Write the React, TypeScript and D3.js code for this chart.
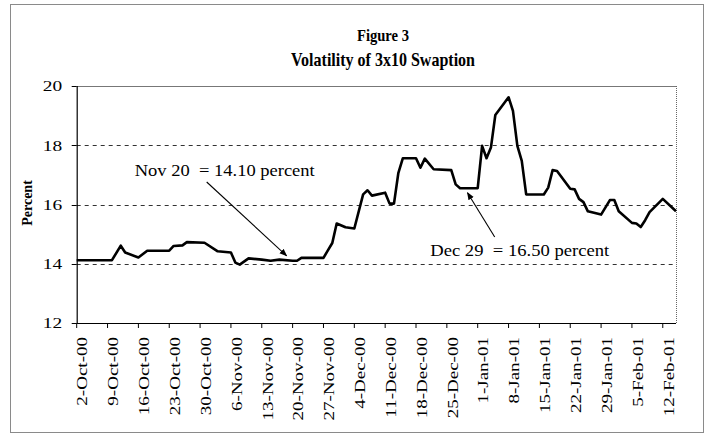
import React, { useEffect, useRef } from 'react';
import * as d3 from 'd3';

// Daily volatility readings (corner points of the plotted line)
const dates = [
  '2000-10-02', '2000-10-10', '2000-10-12', '2000-10-13', '2000-10-16', '2000-10-18',
  '2000-10-23', '2000-10-24', '2000-10-26', '2000-10-27', '2000-10-31', '2000-11-03',
  '2000-11-06', '2000-11-07', '2000-11-08', '2000-11-10', '2000-11-13', '2000-11-15',
  '2000-11-17', '2000-11-20', '2000-11-21', '2000-11-22', '2000-11-27', '2000-11-28',
  '2000-11-29', '2000-11-30', '2000-12-02', '2000-12-04', '2000-12-06', '2000-12-07',
  '2000-12-08', '2000-12-11', '2000-12-12', '2000-12-13', '2000-12-14', '2000-12-15',
  '2000-12-18', '2000-12-19', '2000-12-20', '2000-12-22', '2000-12-26', '2000-12-27',
  '2000-12-28', '2001-01-01', '2001-01-02', '2001-01-03', '2001-01-04', '2001-01-05',
  '2001-01-08', '2001-01-09', '2001-01-10', '2001-01-11', '2001-01-12', '2001-01-16',
  '2001-01-17', '2001-01-18', '2001-01-19', '2001-01-22', '2001-01-23', '2001-01-24',
  '2001-01-25', '2001-01-26', '2001-01-29', '2001-01-31', '2001-02-01', '2001-02-02',
  '2001-02-05', '2001-02-06', '2001-02-07', '2001-02-08', '2001-02-09', '2001-02-12',
  '2001-02-15'
];
const volatility = [
  14.12, 14.12, 14.61, 14.38, 14.21, 14.44,
  14.44, 14.6, 14.62, 14.73, 14.71, 14.42,
  14.38, 14.04, 13.97, 14.18, 14.14, 14.1,
  14.14, 14.1, 14.1, 14.2, 14.2, 14.45,
  14.7, 15.36, 15.23, 15.19, 16.34, 16.48,
  16.3, 16.4, 16.03, 16.03, 17.07, 17.56,
  17.56, 17.24, 17.55, 17.19, 17.16, 16.68,
  16.55, 16.55, 17.98, 17.56, 17.92, 19.02,
  19.62, 19.16, 17.98, 17.47, 16.34, 16.34,
  16.57, 17.16, 17.13, 16.53, 16.51, 16.19,
  16.08, 15.77, 15.66, 16.15, 16.15, 15.77,
  15.38, 15.36, 15.24, 15.47, 15.74, 16.19,
  15.77
];

const xTickLabels = [
  '2-Oct-00', '9-Oct-00', '16-Oct-00', '23-Oct-00', '30-Oct-00', '6-Nov-00',
  '13-Nov-00', '20-Nov-00', '27-Nov-00', '4-Dec-00', '11-Dec-00', '18-Dec-00',
  '25-Dec-00', '1-Jan-01', '8-Jan-01', '15-Jan-01', '22-Jan-01', '29-Jan-01',
  '5-Feb-01', '12-Feb-01'
];
const yTicks = [12, 14, 16, 18, 20];
const gridValues = [14, 16, 18];

const annotationLabels = ['Nov 20  = 14.10 percent', 'Dec 29  = 16.50 percent'];
const annotationDates = ['2000-11-20', '2000-12-29'];
const annotationValues = [14.1, 16.5];

const W = 709;
const H = 436;
const FONT = '"Liberation Serif", "Times New Roman", serif';

const App = () => {
  const svgRef = useRef<SVGSVGElement>(null);

  useEffect(() => {
    const root = d3.select(svgRef.current);
    root.selectAll('*').remove();

    const margin = { top: 86, right: 33, bottom: 113, left: 76.7 };
    const width = W - margin.left - margin.right;
    const height = H - margin.top - margin.bottom;

    const parseDate = d3.timeParse('%Y-%m-%d');
    const parseTick = d3.timeParse('%e-%b-%y');
    const data = dates.map((d, i) => ({ date: parseDate(d) as Date, value: volatility[i] }));

    const x = d3.scaleTime()
      .domain(d3.extent(data, d => d.date) as [Date, Date])
      .range([0, width]);
    const y = d3.scaleLinear().domain([12, 20]).range([height, 0]);

    // outer chart frame
    root.append('rect')
      .attr('x', 10.5).attr('y', 4.5)
      .attr('width', 693).attr('height', 428)
      .attr('fill', 'white')
      .attr('stroke', '#8a8a8a')
      .attr('stroke-width', 1);

    // titles
    root.append('text')
      .attr('x', 383).attr('y', 41)
      .attr('text-anchor', 'middle')
      .attr('font-family', FONT).attr('font-weight', 'bold').attr('font-size', 17)
      .attr('textLength', 52).attr('lengthAdjust', 'spacingAndGlyphs')
      .text('Figure 3');
    root.append('text')
      .attr('x', 383).attr('y', 66)
      .attr('text-anchor', 'middle')
      .attr('font-family', FONT).attr('font-weight', 'bold').attr('font-size', 19)
      .attr('textLength', 184).attr('lengthAdjust', 'spacingAndGlyphs')
      .text('Volatility of 3x10 Swaption');

    const g = root.append('g')
      .attr('transform', `translate(${margin.left},${margin.top})`);

    // plot area border (top / right)
    g.append('line')
      .attr('x1', 0).attr('x2', width).attr('y1', 0.5).attr('y2', 0.5)
      .attr('stroke', '#777').attr('stroke-width', 1);
    g.append('line')
      .attr('x1', width + 0.5).attr('x2', width + 0.5).attr('y1', 0).attr('y2', height)
      .attr('stroke', '#666').attr('stroke-width', 1).attr('stroke-dasharray', '1,1');

    // grid lines
    g.selectAll('.grid')
      .data(gridValues)
      .enter()
      .append('line')
      .attr('x1', 0).attr('x2', width)
      .attr('y1', d => Math.round(y(d)) + 0.5).attr('y2', d => Math.round(y(d)) + 0.5)
      .attr('stroke', '#333').attr('stroke-width', 1).attr('stroke-dasharray', '4,4');

    // y axis
    g.append('line')
      .attr('x1', 0.5).attr('x2', 0.5).attr('y1', 0).attr('y2', height)
      .attr('stroke', 'black').attr('stroke-width', 1.2);
    g.selectAll('.ytick')
      .data(yTicks)
      .enter()
      .append('line')
      .attr('x1', -5).attr('x2', 0)
      .attr('y1', d => Math.round(y(d)) + 0.5).attr('y2', d => Math.round(y(d)) + 0.5)
      .attr('stroke', 'black');
    g.selectAll('.ylabel')
      .data(yTicks)
      .enter()
      .append('text')
      .attr('transform', d => `translate(-14.5,${y(d)}) scale(1.25,1)`)
      .attr('dy', '0.35em')
      .attr('text-anchor', 'end')
      .attr('font-family', FONT).attr('font-size', 15.5)
      .text(d => d);

    root.append('text')
      .attr('transform', 'translate(32,203) rotate(-90)')
      .attr('text-anchor', 'middle')
      .attr('font-family', FONT).attr('font-weight', 'bold').attr('font-size', 14)
      .text('Percent');

    // x axis
    g.append('line')
      .attr('x1', 0).attr('x2', width).attr('y1', height + 0.5).attr('y2', height + 0.5)
      .attr('stroke', 'black').attr('stroke-width', 1.2);
    const ticks = xTickLabels.map(l => ({ label: l, date: parseTick(l) as Date }));
    g.selectAll('.xtick')
      .data(ticks)
      .enter()
      .append('line')
      .attr('x1', d => x(d.date)).attr('x2', d => x(d.date))
      .attr('y1', height).attr('y2', height + 5)
      .attr('stroke', 'black');
    g.selectAll('.xlabel')
      .data(ticks)
      .enter()
      .append('text')
      .attr('transform', d => `translate(${x(d.date) + 5.5},${height + 14}) rotate(-90) scale(1.27,1)`)
      .attr('dy', '0.35em')
      .attr('text-anchor', 'end')
      .attr('font-family', FONT).attr('font-size', 15)
      .text(d => d.label);

    // series line
    const line = d3.line<{ date: Date; value: number }>()
      .x(d => x(d.date))
      .y(d => y(d.value));
    g.append('path')
      .datum(data)
      .attr('fill', 'none')
      .attr('stroke', 'black')
      .attr('stroke-width', 2.6)
      .attr('stroke-linejoin', 'round')
      .attr('d', line);

    // annotations
    const defs = root.append('defs');
    defs.append('marker')
      .attr('id', 'arrowhead')
      .attr('viewBox', '0 0 10 10')
      .attr('refX', 9).attr('refY', 5)
      .attr('markerWidth', 7).attr('markerHeight', 7)
      .attr('orient', 'auto')
      .append('path')
      .attr('d', 'M0,1 L10,5 L0,9 Z')
      .attr('fill', 'black');

    const notes = annotationLabels.map((label, i) => ({
      label,
      date: parseDate(annotationDates[i]) as Date,
      value: annotationValues[i]
    }));
    // text placement relative to the plot area
    const textPos = [
      { x: 148, y: 90, len: 180, from: [130, 96], off: [-6, -5] },
      { x: 443, y: 170, len: 179, from: [418, 151], off: [3, 3] }
    ];

    notes.forEach((n, i) => {
      const p = textPos[i];
      g.append('text')
        .attr('x', p.x).attr('y', p.y)
        .attr('text-anchor', 'middle')
        .attr('font-family', FONT).attr('font-size', 17)
        .attr('textLength', p.len).attr('lengthAdjust', 'spacingAndGlyphs')
        .style('white-space', 'pre')
        .text(n.label);
      g.append('line')
        .attr('x1', p.from[0]).attr('y1', p.from[1])
        .attr('x2', x(n.date) + p.off[0]).attr('y2', y(n.value) + p.off[1])
        .attr('stroke', 'black').attr('stroke-width', 1.1)
        .attr('marker-end', 'url(#arrowhead)');
    });
  }, []);

  return (
    <svg
      ref={svgRef}
      width={W}
      height={H}
      style={{ position: 'absolute', left: 0, top: 0, background: 'white' }}
    />
  );
};

export default App;
